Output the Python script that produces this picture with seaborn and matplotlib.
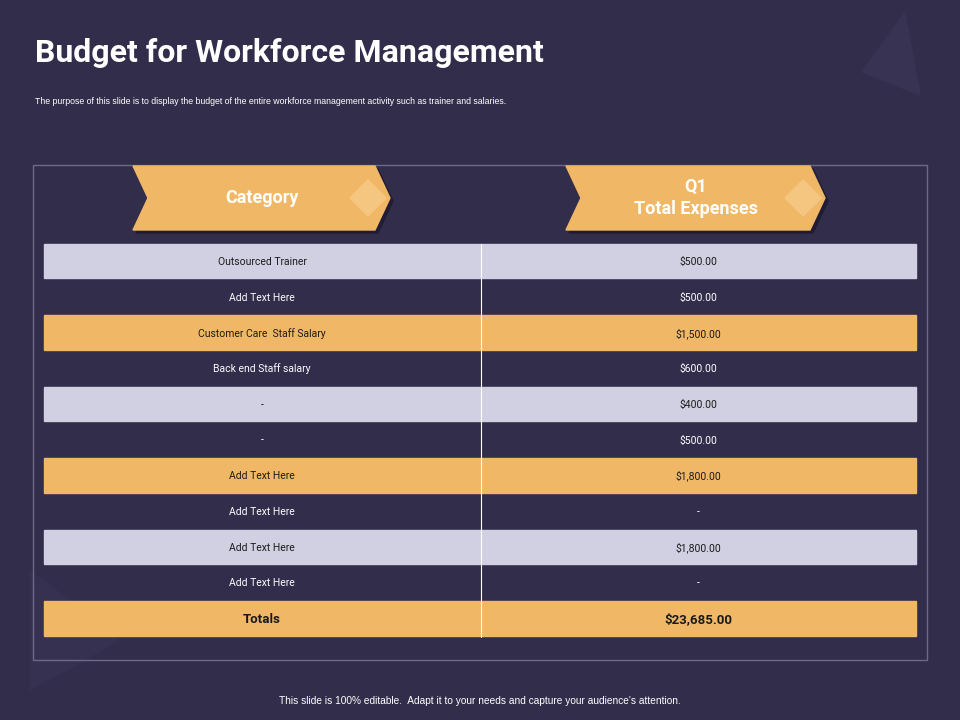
import matplotlib
matplotlib.use("Agg")
import matplotlib.pyplot as plt
import seaborn as sns
from matplotlib.patches import Polygon, Rectangle

categories = ["Outsourced Trainer", "Add Text Here", "Customer Care  Staff Salary", "Back end Staff salary",
              "-", "-", "Add Text Here", "Add Text Here", "Add Text Here", "Add Text Here", "Totals"]
expenses = ["$500.00", "$500.00", "$1,500.00", "$600.00", "$400.00", "$500.00", "$1,800.00",
            "-", "$1,800.00", "-", "$23,685.00"]
row_styles = ["light", "dark", "orange", "dark", "light", "dark", "orange", "dark", "light", "dark", "orange"]
headers = ["Category", "Q1\nTotal Expenses"]

BG = "#322d4b"; LIGHT = "#d1cfe2"; ORANGE = "#f0b866"
sns.set_theme(style="white", rc={"font.family": "Liberation Sans"})
fig = plt.figure(figsize=(9.6, 7.2), dpi=100, facecolor=BG)
ax = fig.add_axes([0, 0, 1, 1]); ax.set_xlim(0, 960); ax.set_ylim(720, 0); ax.axis("off")
ax.set_facecolor(BG)

# decorative triangles
ax.add_patch(Polygon([[905, 12], [920, 95], [862, 72]], closed=True, color="#383352", zorder=0))
ax.add_patch(Polygon([[30, 570], [30, 690], [120, 640]], closed=True, color="#363150", zorder=0))

ax.text(35, 53, "Budget for Workforce Management", color="white", fontsize=23, fontweight="bold", va="center",
        fontfamily="Roboto")
ax.text(35, 102, "The purpose of this slide is to display the budget of the entire workforce management activity such as trainer and salaries.",
        color="white", fontsize=6.3, va="center")

ax.add_patch(Rectangle((33, 165), 894, 495, fill=False, ec="#6d6a88", lw=1))

for x0, x1, h in [(133, 390, headers[0]), (566, 825, headers[1])]:
    ys, ym, ye = 166, 198, 230
    ax.add_patch(Polygon([[x0 + 3, ys + 3], [x1 - 12, ys + 3], [x1 + 3, ym + 3], [x1 - 12, ye + 3], [x0 + 3, ye + 3], [x0 + 18, ym + 3]],
                         closed=True, color="#201c33", zorder=1))
    chev = Polygon([[x0, ys], [x1 - 15, ys], [x1, ym], [x1 - 15, ye], [x0, ye], [x0 + 15, ym]],
                   closed=True, color=ORANGE, zorder=2)
    ax.add_patch(chev)
    cx = x1 - 22
    dia = Polygon([[cx, ym - 18], [cx + 18, ym], [cx, ym + 18], [cx - 18, ym]], closed=True,
                  color="#f4c680", zorder=3)
    ax.add_patch(dia)
    dia.set_clip_path(chev)
    ax.text((x0 + x1) / 2, ym, h, color="white", fontsize=13, fontweight="bold", ha="center", va="center",
            fontfamily="Roboto", linespacing=1.3, zorder=4)

top, rh = 244, (637 - 244) / len(categories)
for i, (c, e, s) in enumerate(zip(categories, expenses, row_styles)):
    y = top + i * rh
    if s != "dark":
        ax.add_patch(Rectangle((44, y), 872, rh - 1.5, color=LIGHT if s == "light" else ORANGE, zorder=1))
    tc = "white" if s == "dark" else "#1a1a1a"
    bold = i == len(categories) - 1
    fs = 9.5 if bold else 7.5
    fw = "bold" if bold else "normal"
    ax.text(262, y + rh / 2, c, color=tc, fontsize=fs, fontweight=fw, ha="center", va="center", fontfamily="Roboto")
    ax.text(698, y + rh / 2, e, color=tc, fontsize=fs, fontweight=fw, ha="center", va="center", fontfamily="Roboto")
ax.plot([481, 481], [244, 637], color="white", lw=0.8, zorder=2)

ax.text(480, 701, "This slide is 100% editable.  Adapt it to your needs and capture your audience's attention.",
        color="white", fontsize=7.3, ha="center", va="center")
fig.savefig("out.png", dpi=100, facecolor=BG)
